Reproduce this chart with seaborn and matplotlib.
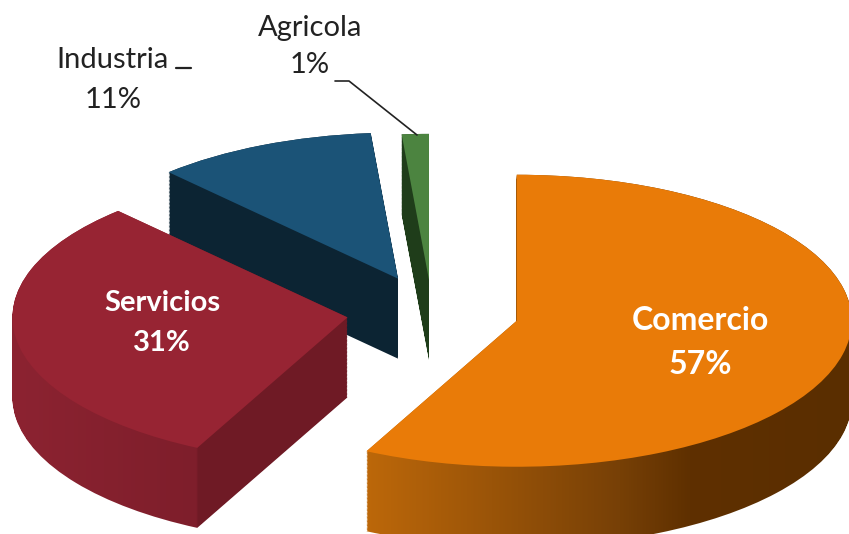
import numpy as np
import matplotlib
matplotlib.use("Agg")
import matplotlib.pyplot as plt
import seaborn as sns
from matplotlib.colors import LinearSegmentedColormap
from matplotlib.path import Path
from matplotlib.transforms import Affine2D

categories = ["Comercio", "Servicios", "Industria", "Agricola"]
values = [57.4, 30.6, 10.7, 1.3]

W, H = 849, 534
CX, CY = 432, 312     # pie centre in pixels
RX, RY = 335, 146     # ellipse radii in pixels
DEPTH = 80 / RY

sns.set_theme(style="white")
plt.rcParams["font.family"] = ["Lato", "DejaVu Sans"]

explode = [0.26, 0.255, 0.25, 0.22]
top_colors = ["#e97b08", "#972433", "#1b5377", "#4c8440"]
# side shading: (pixel x, colour) stops
side_stops = [
    [(0, "#bd680a"), (365, "#bd680a"), (620, "#774006"), (690, "#5f3000"), (849, "#5a2e00")],
    [(0, "#8c2331"), (12, "#8c2331"), (196, "#7e1e2b"), (198, "#6f1a25"), (849, "#6f1a25")],
    [(0, "#0c2433"), (849, "#0c2433")],
    [(0, "#1f3d1a"), (849, "#1f3d1a")],
]
draw_order = [3, 2, 1, 0]


def px(x, y):
    return (x - CX) / RX, (CY - y) / RY


fig = plt.figure(figsize=(W / 100, H / 100), dpi=100)
ax = fig.add_axes([0, 0, 1, 1])

wedges, _ = ax.pie(values, colors=top_colors, explode=explode, startangle=90,
                   counterclock=False, wedgeprops={"linewidth": 0})

x0, y1 = px(0, 0)
x1, y0 = px(W, H)
gradient = np.linspace(0, 1, W).reshape(1, -1)

for z, i in enumerate(draw_order):
    wedge = wedges[i]
    wedge.set_zorder(2 * z + 1)
    base = wedge.get_path()
    layers = [base.transformed(Affine2D().translate(0, -d))
              for d in np.linspace(0, DEPTH, 60)]
    side = Path.make_compound_path(*layers)
    cmap = LinearSegmentedColormap.from_list(
        f"side{i}", [(p / W, c) for p, c in side_stops[i]], N=W)
    img = ax.imshow(gradient, cmap=cmap, extent=(x0, x1, y0, y1), aspect="auto",
                    zorder=2 * z, interpolation="nearest")
    img.set_clip_path(side, transform=ax.transData)

ax.set_aspect("auto")
ax.set_xlim(x0, x1)
ax.set_ylim(y0, y1)
ax.axis("off")

# labels
label_pos = [(700, 321, 365), (162, 303, 343), (113, 60, 100), (310, 28, 65)]
label_size = [23, 21, 21, 21]
for i, (x, y_name, y_pct) in enumerate(label_pos):
    inside = i < 2
    color = "white" if inside else "#222222"
    weight = "bold" if inside else "normal"
    ax.text(*px(x, y_name), categories[i], color=color, fontsize=label_size[i], fontweight=weight,
            ha="center", va="center", zorder=20)
    ax.text(*px(x, y_pct), f"{values[i]:.0f}%", color=color, fontsize=label_size[i], fontweight=weight,
            ha="center", va="center", zorder=20)

# leader lines
ax.plot(*zip(px(335, 81), px(349, 81), px(417, 135)), color="#222222", lw=1.2, zorder=20)
ax.plot(*zip(px(176, 68), px(191, 68)), color="#222222", lw=1.6, zorder=20)

fig.savefig("out.png", dpi=100)
